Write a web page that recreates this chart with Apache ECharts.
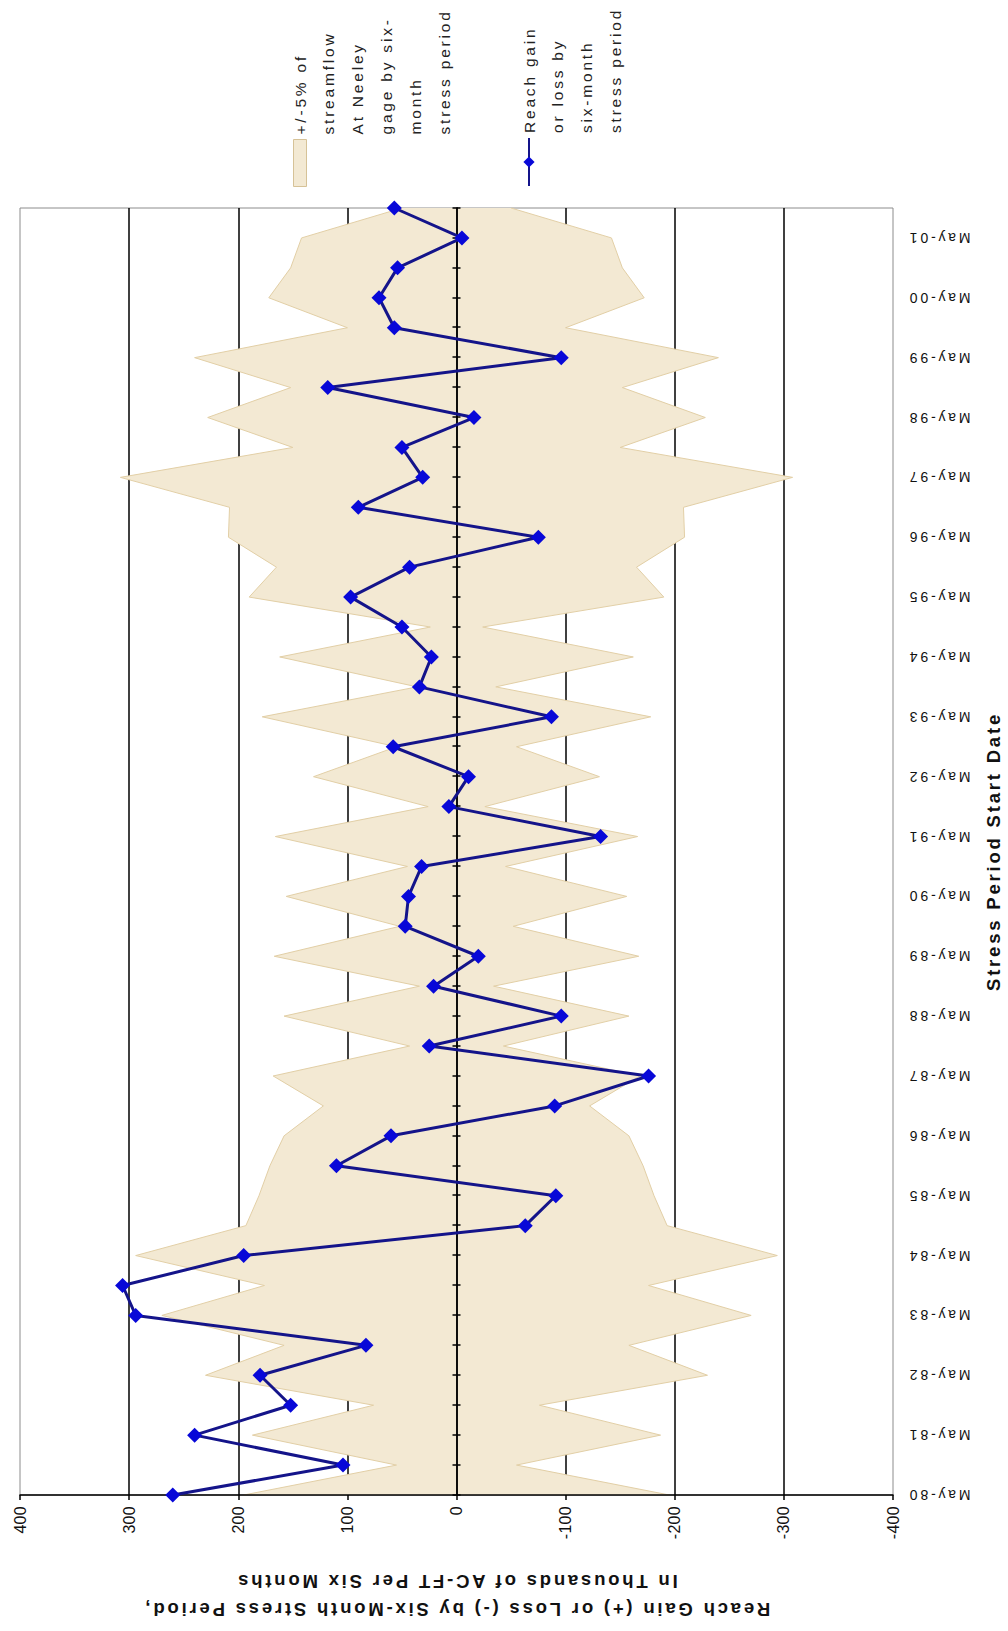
<!DOCTYPE html>
<html>
<head>
<meta charset="utf-8">
<title>Reach gain or loss by six-month stress period</title>
<script src="https://cdn.jsdelivr.net/npm/echarts@6/dist/echarts.min.js"></script>
<style>
  html, body { margin: 0; padding: 0; background: #ffffff; overflow: hidden; width: 1008px; height: 1631px; }
  /* The chart is laid out landscape and turned a quarter turn counter-clockwise onto the portrait page. */
  #chart {
    position: absolute; left: 0; top: 0;
    width: 1631px; height: 1008px;
    transform-origin: 0 0;
    transform: translate(0px, 1631px) rotate(-90deg);
  }
  #chart text { letter-spacing: 2.8px; }
  #chart text[style*="16px"] { letter-spacing: 0.3px; }
</style>
</head>
<body>
<div id="chart"></div>
<script>
// Six-month stress periods (start dates)
const periods = [
  'May-80','Nov-80','May-81','Nov-81','May-82','Nov-82','May-83','Nov-83','May-84','Nov-84',
  'May-85','Nov-85','May-86','Nov-86','May-87','Nov-87','May-88','Nov-88','May-89','Nov-89',
  'May-90','Nov-90','May-91','Nov-91','May-92','Nov-92','May-93','Nov-93','May-94','Nov-94',
  'May-95','Nov-95','May-96','Nov-96','May-97','Nov-97','May-98','Nov-98','May-99','Nov-99',
  'May-00','Nov-00','May-01','Nov-01'
];

// Reach gain (+) or loss (-), thousands of acre-feet per six months
const reachGainLoss = [
  260, 104, 240, 152, 180, 83, 294, 306, 195, -63,
  -91, 110, 60, -90, -176, 25, -96, 21, -20, 47,
  44, 32, -132, 7, -11, 58, -87, 34, 23, 50,
  97, 43, -75, 90, 31, 50, -16, 118, -96, 57,
  71, 54, -5, 57
];

// 5% of streamflow at the Neeley gage, thousands of acre-feet per six months
const streamflowFivePct = [
  195, 55, 187, 76, 230, 158, 270, 176, 294, 193,
  181, 171, 158, 122, 168, 43, 158, 34, 167, 52,
  156, 45, 166, 26, 131, 55, 178, 36, 162, 24,
  190, 165, 209, 208, 308, 150, 228, 152, 240, 100,
  172, 152, 142, 50
];

// Value axis ticks
const valueTicks = [-400, -300, -200, -100, 0, 100, 200, 300, 400];

const bandName = '+/-5% of streamflow At Neeley gage by six-month stress period';
const lineName = 'Reach gain or loss by six-month stress period';
const legendLines = {};
legendLines[bandName] = ['+/-5% of', 'streamflow', 'At Neeley', 'gage by six-', 'month', 'stress period'];
legendLines[lineName] = ['Reach gain', 'or loss by', 'six-month', 'stress period'];

const FONT = 'Liberation Sans, Arial, Helvetica, sans-serif';
const LEGEND_LINE = 28.8;
const bandFill = '#f3e9d3';
const bandEdge = '#e2cfa6';
const black = '#000000';

// Legend text is centred on its key; leading blank lines drop the first
// written line level with the key, as in a top-aligned legend entry.
function legendText(name) {
  const lines = legendLines[name];
  return new Array(lines.length).join('\n') + lines.join('\n');
}
function legendTop(keyCentre, name) {
  const n = legendLines[name].length;
  return keyCentre - (2 * n - 1) * LEGEND_LINE / 2;
}

const chart = echarts.init(document.getElementById('chart'), null, {
  renderer: 'svg', width: 1631, height: 1008
});

const valueAxisBase = {
  type: 'value',
  min: valueTicks[0],
  max: valueTicks[valueTicks.length - 1],
  interval: valueTicks[1] - valueTicks[0]
};

const legendTextStyle = { fontSize: 15.5, lineHeight: LEGEND_LINE, color: '#222222', fontFamily: FONT };

chart.setOption({
  animation: false,
  textStyle: { fontFamily: FONT },
  grid: {
    left: 124, right: 208, top: 20, bottom: 114,
    show: true, borderColor: '#8c8c8c', borderWidth: 1, backgroundColor: 'transparent'
  },
  legend: [
    {
      data: [{ name: bandName, icon: 'rect', itemStyle: { color: bandFill, borderColor: '#d6c297', borderWidth: 1 } }],
      orient: 'vertical', left: 1444, top: legendTop(300, bandName), padding: 0,
      itemWidth: 47, itemHeight: 13, selectedMode: false,
      formatter: legendText, textStyle: legendTextStyle
    },
    {
      data: [{ name: lineName }],
      orient: 'vertical', left: 1444, top: legendTop(529, lineName), padding: 0,
      itemWidth: 48, itemHeight: 14, selectedMode: false,
      formatter: legendText, textStyle: legendTextStyle
    }
  ],
  xAxis: [
    { // category axis drawn across the zero line, ticks below
      type: 'category', data: periods, boundaryGap: false, position: 'bottom', z: 3,
      axisLine: { show: true, onZero: true, lineStyle: { color: black, width: 1.5 } },
      axisTick: { show: true, interval: 0, length: 4, lineStyle: { color: black, width: 1.5 } },
      axisLabel: { show: false }, splitLine: { show: false }
    },
    { // same axis, ticks above the zero line
      type: 'category', data: periods, boundaryGap: false, position: 'bottom', z: 3,
      axisLine: { show: true, onZero: true, lineStyle: { color: black, width: 1.5 } },
      axisTick: { show: true, inside: true, interval: 0, length: 4, lineStyle: { color: black, width: 1.5 } },
      axisLabel: { show: false }, splitLine: { show: false }
    },
    { // date labels along the low edge of the plot
      type: 'category', data: periods, boundaryGap: false, position: 'bottom',
      axisLine: { show: false, onZero: false }, axisTick: { show: false }, splitLine: { show: false },
      axisLabel: { interval: 1, rotate: 90, margin: 14, fontSize: 14, color: '#111111', fontFamily: FONT },
      name: 'Stress Period Start Date', nameLocation: 'middle', nameGap: 91,
      nameTextStyle: { fontSize: 18.5, fontWeight: 'bold', color: '#111111', fontFamily: FONT }
    }
  ],
  yAxis: [
    Object.assign({}, valueAxisBase, { // gridlines, behind the band
      position: 'left', z: 0,
      axisLine: { show: false }, axisTick: { show: false }, axisLabel: { show: false },
      splitLine: { show: true, showMinLine: false, showMaxLine: false, lineStyle: { color: black, width: 1.5 } }
    }),
    Object.assign({}, valueAxisBase, { // axis line, ticks, labels and title
      position: 'left', z: 3,
      axisLine: { show: true, onZero: false, lineStyle: { color: black, width: 1.5 } },
      axisTick: { show: true, length: 5, lineStyle: { color: black, width: 1.5 } },
      splitLine: { show: false },
      axisLabel: { fontSize: 16, color: '#111111', margin: 11, fontFamily: FONT },
      name: 'Reach Gain (+) or Loss (-) by Six-Month Stress Period,\nIn Thousands of AC-FT Per Six Months',
      nameLocation: 'middle', nameGap: 72,
      nameTextStyle: { fontSize: 18.5, fontWeight: 'bold', lineHeight: 28, color: '#111111', fontFamily: FONT }
    })
  ],
  series: [
    {
      name: bandName, type: 'line', xAxisIndex: 0, yAxisIndex: 0, z: 1, silent: true,
      data: streamflowFivePct,
      symbol: 'none', lineStyle: { color: bandEdge, width: 1 },
      areaStyle: { color: bandFill, opacity: 1, origin: 'auto' }
    },
    {
      name: bandName, type: 'line', xAxisIndex: 0, yAxisIndex: 0, z: 1, silent: true,
      data: streamflowFivePct.map(v => -v),
      symbol: 'none', lineStyle: { color: bandEdge, width: 1 },
      areaStyle: { color: bandFill, opacity: 1, origin: 'auto' }
    },
    {
      name: lineName, type: 'line', xAxisIndex: 0, yAxisIndex: 0, z: 4,
      data: reachGainLoss,
      symbol: 'diamond', symbolSize: 15, showSymbol: true, showAllSymbol: true,
      lineStyle: { color: '#14148a', width: 3 },
      itemStyle: { color: '#0808d8' }
    }
  ]
});
</script>
</body>
</html>
